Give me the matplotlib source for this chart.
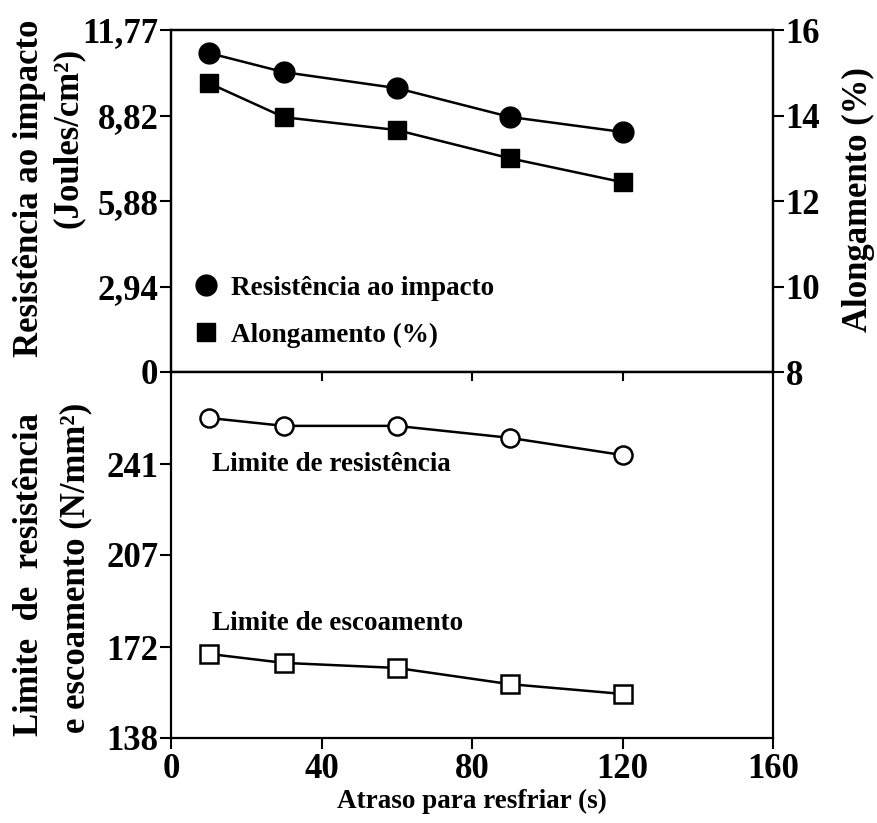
import numpy as np
import matplotlib
matplotlib.use('Agg')
import matplotlib.pyplot as plt

plt.rcParams['font.family'] = ['Liberation Serif', 'DejaVu Serif']
plt.rcParams['font.weight'] = 'bold'

# data
atraso = [10, 30, 60, 90, 120]
impacto = [10.98, 10.32, 9.77, 8.78, 8.26]          # Joules/cm2
alongamento = [14.76, 13.96, 13.66, 13.0, 12.44]    # %
lim_resist = [258.5, 255.5, 255.5, 251.0, 244.5]    # N/mm2
lim_escoa = [169.6, 166.2, 164.3, 158.2, 154.5]     # N/mm2

xticks = [0, 40, 80, 120, 160]
top_ticks = [0, 2.94, 5.88, 8.82, 11.77]
top_labels = ['0', '2,94', '5,88', '8,82', '11,77']
right_ticks = [8, 10, 12, 14, 16]
bot_ticks = [138, 172, 207, 241]

W, H = 877, 823
fig = plt.figure(figsize=(W / 100, H / 100), dpi=100)
x0, x1 = 171 / W, 773 / W
y_top, y_mid, y_bot = 1 - 30 / H, 1 - 372 / H, 1 - 738 / H

ax1 = fig.add_axes([x0, y_mid, x1 - x0, y_top - y_mid])
ax2 = fig.add_axes([x0, y_bot, x1 - x0, y_mid - y_bot])
ax1r = ax1.twinx()

for a in (ax1, ax2, ax1r):
    for s in a.spines.values():
        s.set_linewidth(1.6)

TICK = 25
LAB = 25
SMALL = 19.5

# top panel
ax1.plot(atraso, impacto, 'o-', color='black', lw=1.8, ms=15,
         label='Resistência ao impacto')
ax1r.plot(atraso, alongamento, 's-', color='black', lw=1.8, ms=13.5,
          label='Alongamento (%)')
ax1.set_xlim(0, 160)
ax1.set_ylim(0, 11.77)
ax1.set_yticks(top_ticks)
ax1.set_yticklabels(top_labels)
ax1.set_xticks([])
ax1r.set_ylim(8, 16)
ax1r.set_yticks(right_ticks)
ax1.tick_params(axis='y', direction='out', length=8, width=1.5,
                labelsize=TICK, pad=1)
ax1r.tick_params(axis='y', direction='out', length=8, width=1.5,
                 labelsize=TICK, pad=1)

h1, l1 = ax1.get_legend_handles_labels()
h2, l2 = ax1r.get_legend_handles_labels()
leg = ax1.legend(h1 + h2, l1 + l2, loc='lower left',
                 bbox_to_anchor=(0.0, 0.0), frameon=False,
                 prop={'size': SMALL, 'weight': 'bold'},
                 handlelength=0.8, handletextpad=0.5, labelspacing=0.8)
for lh in leg.legend_handles:
    lh.set_linestyle('none')

# bottom panel
ax2.plot(atraso, lim_resist, 'o-', color='black', lw=1.8, ms=13,
         mfc='white', mew=1.8)
ax2.plot(atraso, lim_escoa, 's-', color='black', lw=1.8, ms=13,
         mfc='white', mew=1.8)
ax2.set_xlim(0, 160)
ax2.set_ylim(137.9, 275.8)
ax2.set_xticks(xticks)
ax2.set_yticks(bot_ticks)
ax2.tick_params(axis='x', direction='out', length=8, width=1.5,
                labelsize=TICK, pad=3)
ax2.tick_params(axis='y', direction='out', length=8, width=1.5,
                labelsize=TICK, pad=1)
# inward ticks on the shared border
for xt in xticks[1:-1]:
    ax2.plot([xt, xt], [275.8, 275.8 - 3], color='black', lw=1.5,
             clip_on=False)

ax2.text(11, 241, 'Limite de resistência', fontsize=SMALL, fontweight='bold',
         va='center', ha='left')
ax2.text(11, 181, 'Limite de escoamento', fontsize=SMALL, fontweight='bold',
         va='center', ha='left')

ax2.set_xlabel('Atraso para resfriar (s)', fontsize=SMALL, fontweight='bold',
               labelpad=2)


def px(x, y):
    return x / W, 1 - y / H


# axis titles, placed line by line as in the original
fig.text(*px(30, 188), 'Resistência ao impacto', rotation=90, fontsize=LAB,
         ha='center', va='center')
fig.text(*px(68, 138), '(Joules/cm²)', rotation=90, fontsize=LAB,
         ha='center', va='center')
fig.text(*px(30, 575), 'Limite  de  resistência', rotation=90, fontsize=LAB,
         ha='center', va='center')
fig.text(*px(76, 568), 'e escoamento (N/mm²)', rotation=90, fontsize=LAB,
         ha='center', va='center')
fig.text(*px(858, 200), 'Alongamento (%)', rotation=90, fontsize=LAB,
         ha='center', va='center')

fig.savefig('out.png', dpi=100)
